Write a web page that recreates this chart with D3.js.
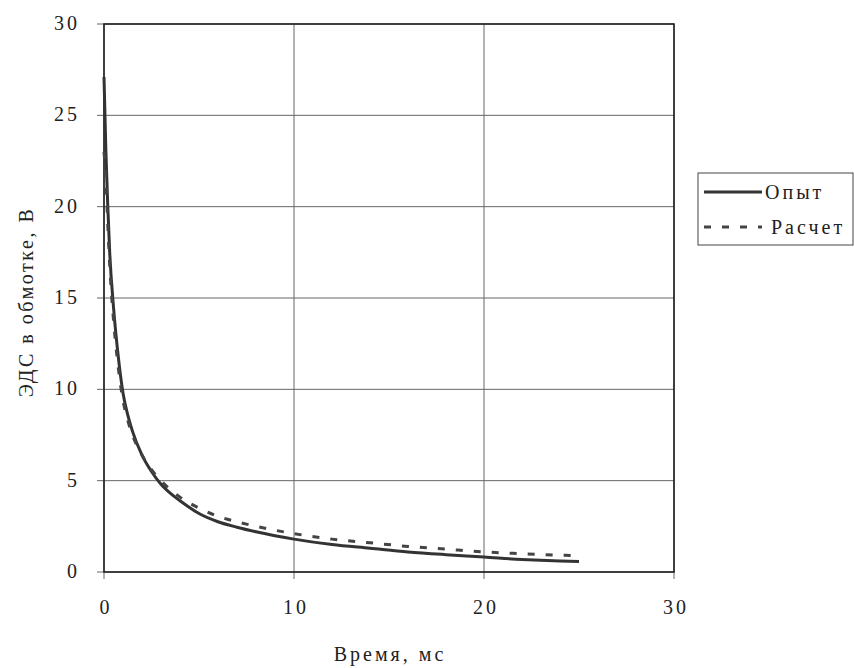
<!DOCTYPE html>
<html>
<head>
<meta charset="utf-8">
<script src="https://cdnjs.cloudflare.com/ajax/libs/d3/7.8.5/d3.min.js"></script>
<style>
  body { margin: 0; background: #fff; }
</style>
</head>
<body>
<div id="chart"></div>
<script>
// data
var time    = [0, 0.1, 0.2, 0.3, 0.5, 0.75, 1, 1.25, 1.5, 2, 2.5, 3, 3.5, 4, 5, 6, 7, 8, 10, 12, 14, 16, 18, 20, 22, 24, 25];
var opyt    = [27.1, 23, 20, 17.5, 14.5, 11.8, 9.8, 8.6, 7.7, 6.4, 5.5, 4.8, 4.3, 3.9, 3.2, 2.75, 2.45, 2.2, 1.8, 1.5, 1.3, 1.1, 0.95, 0.82, 0.68, 0.6, 0.58];
var raschet = [23, 21.5, 19, 16.8, 13.8, 11.2, 9.4, 8.3, 7.5, 6.4, 5.6, 5.0, 4.5, 4.1, 3.5, 3.05, 2.75, 2.5, 2.1, 1.8, 1.6, 1.4, 1.25, 1.1, 1.0, 0.92, 0.9];
var xTicks = [0, 10, 20, 30];
var yTicks = [0, 5, 10, 15, 20, 25, 30];
var seriesNames = ["Опыт", "Расчет"];

var FONT = "'Liberation Serif', serif";
var W = 854, H = 668;
var plot = {left: 104, right: 674, top: 24, bottom: 572};

var svg = d3.select("#chart").append("svg")
    .attr("width", W)
    .attr("height", H)
    .style("font-family", FONT);

var x = d3.scaleLinear().domain([0, 30]).range([plot.left, plot.right]);
var y = d3.scaleLinear().domain([0, 30]).range([plot.bottom, plot.top]);

// grid lines (with little ticks sticking outside)
svg.append("g").selectAll("line")
    .data(yTicks)
    .enter().append("line")
    .attr("x1", plot.left - 7).attr("x2", plot.right)
    .attr("y1", d => y(d)).attr("y2", d => y(d))
    .attr("stroke", "#666").attr("stroke-width", 1);

svg.append("g").selectAll("line")
    .data(xTicks)
    .enter().append("line")
    .attr("x1", d => x(d)).attr("x2", d => x(d))
    .attr("y1", plot.top).attr("y2", plot.bottom + 7)
    .attr("stroke", "#666").attr("stroke-width", 1);

// frame
svg.append("rect")
    .attr("x", plot.left).attr("y", plot.top)
    .attr("width", plot.right - plot.left)
    .attr("height", plot.bottom - plot.top)
    .attr("fill", "none").attr("stroke", "#222").attr("stroke-width", 1.6);

function label(sel) {
    return sel.attr("font-family", FONT)
        .attr("font-size", 20)
        .attr("letter-spacing", 3)
        .attr("fill", "#222");
}

// tick labels
svg.append("g").selectAll("text")
    .data(yTicks)
    .enter().append("text")
    .attr("x", plot.left - 24).attr("y", d => y(d) + 6)
    .attr("text-anchor", "end")
    .call(label)
    .text(d => d);

svg.append("g").selectAll("text")
    .data(xTicks)
    .enter().append("text")
    .attr("x", d => x(d) + 2).attr("y", plot.bottom + 42)
    .attr("text-anchor", "middle")
    .call(label)
    .text(d => d);

// axis titles
svg.append("text")
    .attr("x", 390).attr("y", 661)
    .attr("text-anchor", "middle")
    .call(label)
    .text("Время, мс");

svg.append("text")
    .attr("transform", "translate(33,302) rotate(-90)")
    .attr("text-anchor", "middle")
    .call(label)
    .attr("letter-spacing", 2.5)
    .text("ЭДС в обмотке, В");

// the curves
var makeLine = d3.line()
    .x(d => x(d[0]))
    .y(d => y(d[1]))
    .curve(d3.curveMonotoneX);

var opytPts = time.map((t, i) => [t, opyt[i]]);
var raschetPts = time.map((t, i) => [t, raschet[i]]);

svg.append("path")
    .attr("d", makeLine(opytPts))
    .attr("fill", "none").attr("stroke", "#333").attr("stroke-width", 3);

svg.append("path")
    .attr("d", makeLine(raschetPts))
    .attr("fill", "none").attr("stroke", "#444").attr("stroke-width", 3)
    .attr("stroke-dasharray", "7,11");

// legend
var leg = svg.append("g");
leg.append("rect")
    .attr("x", 698).attr("y", 173)
    .attr("width", 155).attr("height", 72)
    .attr("fill", "#fff").attr("stroke", "#444").attr("stroke-width", 1);

leg.append("line")
    .attr("x1", 704).attr("x2", 762).attr("y1", 192).attr("y2", 192)
    .attr("stroke", "#333").attr("stroke-width", 3);
leg.append("line")
    .attr("x1", 704).attr("x2", 762).attr("y1", 227).attr("y2", 227)
    .attr("stroke", "#444").attr("stroke-width", 3)
    .attr("stroke-dasharray", "7,11");

leg.selectAll("text.lbl")
    .data(seriesNames)
    .enter().append("text")
    .attr("class", "lbl")
    .attr("x", (d, i) => i == 0 ? 765 : 771)
    .attr("y", (d, i) => 199 + i * 35)
    .call(label)
    .text(d => d);
</script>
</body>
</html>
